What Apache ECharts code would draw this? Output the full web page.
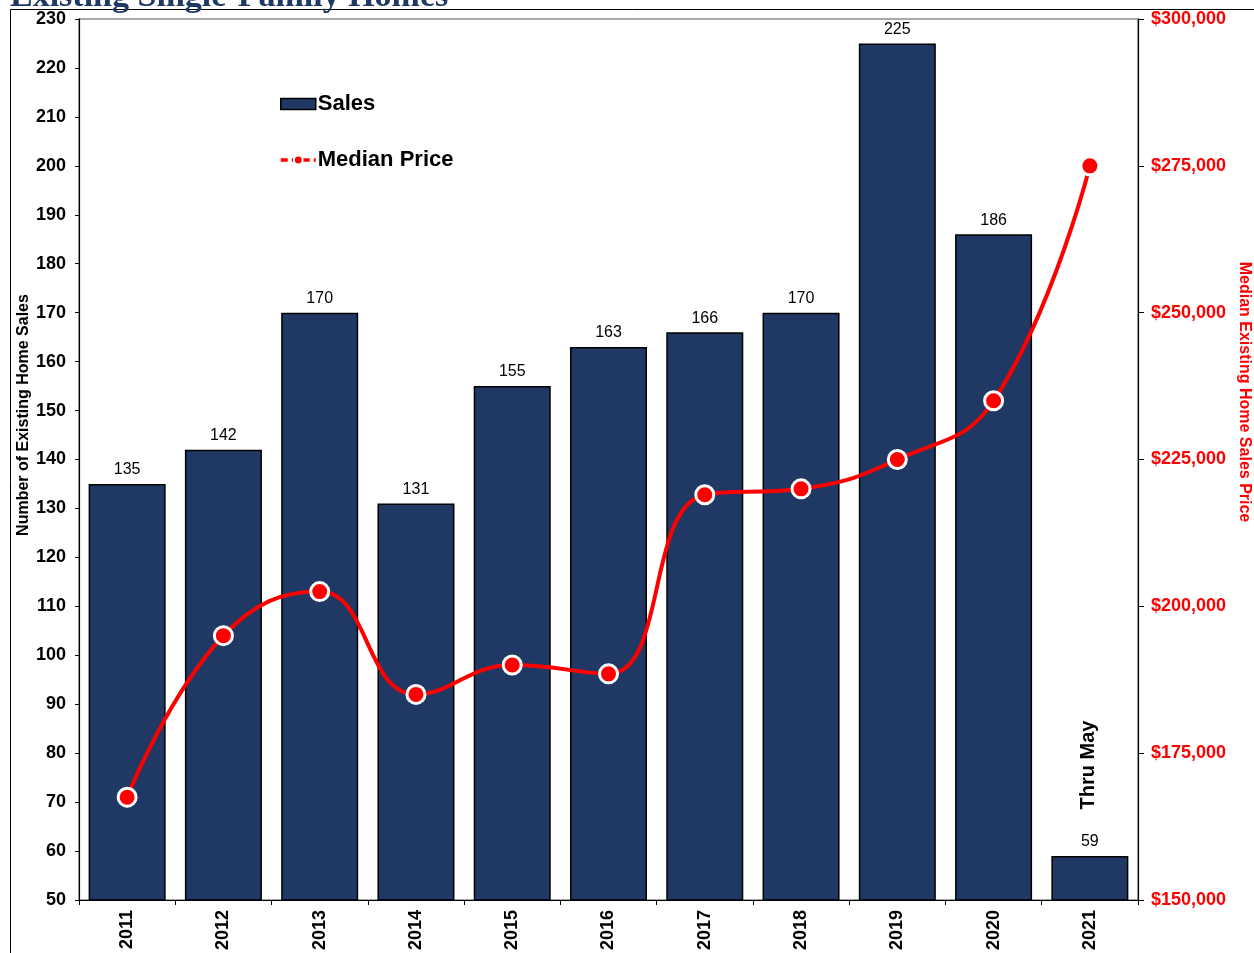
<!DOCTYPE html>
<html>
<head>
<meta charset="utf-8">
<script src="https://cdn.jsdelivr.net/npm/echarts@6/dist/echarts.min.js"></script>
<style>
  html, body { margin: 0; padding: 0; background: #fff; }
  #chart { width: 1254px; height: 953px; }
</style>
</head>
<body>
<div id="chart"></div>
<script>
// Annual existing single-family home sales and median price
const years = ['2011', '2012', '2013', '2014', '2015', '2016', '2017', '2018', '2019', '2020', '2021'];
const sales = [135, 142, 170, 131, 155, 163, 166, 170, 225, 186, 59];
const medianPrice = [167500, 195000, 202500, 185000, 190000, 188500, 219000, 220000, 225000, 235000, 275000];
const salesTicks = { min: 50, max: 230, step: 10 };
const priceTicks = { min: 150000, max: 300000, step: 25000 };

const chart = echarts.init(document.getElementById('chart'), null, { renderer: 'canvas' });

const fmtPrice = v => '$' + v.toLocaleString('en-US');
const sans = '"Liberation Sans", Arial, sans-serif';

chart.setOption({
  animation: false,
  backgroundColor: '#fff',
  grid: { left: 79, right: 116, top: 19, bottom: 51, show: true, borderColor: '#8c8c8c', borderWidth: 1.5, backgroundColor: 'transparent' },
  legend: {
    orient: 'vertical',
    left: 274,
    top: 88,
    itemGap: 34,
    itemWidth: 35,
    itemHeight: 11,
    textStyle: { fontFamily: sans, fontSize: 22, fontWeight: 'bold', color: '#000', padding: [0, 0, 0, -3] },
    data: [
      { name: 'Sales', icon: 'rect', itemStyle: { color: '#203864', borderColor: '#000', borderWidth: 1.5 } },
      { name: 'Median Price', lineStyle: { type: [7, 4], width: 3.5 } }
    ]
  },
  xAxis: {
    type: 'category',
    data: years,
    axisLine: { lineStyle: { color: '#000', width: 1.2 } },
    axisTick: { show: true, alignWithLabel: false, length: 5, lineStyle: { color: '#000' } },
    axisLabel: { rotate: 90, margin: 10, fontFamily: sans, fontSize: 18, fontWeight: 'bold', color: '#000' }
  },
  yAxis: [
    {
      type: 'value',
      min: salesTicks.min, max: salesTicks.max, interval: salesTicks.step,
      axisLine: { show: true, lineStyle: { color: '#000', width: 1.2 } },
      axisTick: { show: true, inside: false, length: 4, lineStyle: { color: '#000' } },
      splitLine: { show: false },
      axisLabel: { margin: 13, fontFamily: sans, fontSize: 18, fontWeight: 'bold', color: '#000' }
    },
    {
      type: 'value',
      position: 'right',
      min: priceTicks.min, max: priceTicks.max, interval: priceTicks.step,
      axisLine: { show: true, lineStyle: { color: '#000', width: 1.2 } },
      axisTick: { show: true, inside: false, length: 6, lineStyle: { color: '#000' } },
      splitLine: { show: false },
      axisLabel: { margin: 13, fontFamily: sans, fontSize: 18, fontWeight: 'bold', color: '#ff0000', formatter: fmtPrice }
    }
  ],
  series: [
    {
      name: 'Sales',
      type: 'bar',
      yAxisIndex: 0,
      data: sales,
      barCategoryGap: '20%',
      itemStyle: { color: '#203864', borderColor: '#000', borderWidth: 1.5 },
      label: { show: true, position: 'top', distance: 6, fontFamily: sans, fontSize: 16, color: '#000' },
      z: 2
    },
    {
      name: 'Median Price',
      type: 'line',
      yAxisIndex: 1,
      data: medianPrice,
      smooth: 0.45,
      symbol: 'circle',
      symbolSize: 18,
      lineStyle: { color: '#ff0000', width: 4 },
      itemStyle: { color: '#ff0000', borderColor: '#fff', borderWidth: 3 },
      z: 5
    }
  ],
  graphic: [
    {
      type: 'rect',
      shape: { x: 10.5, y: 9.5, width: 1300, height: 1000 },
      style: { fill: 'none', stroke: '#000', lineWidth: 1 },
      silent: true, z: -10
    },
    {
      type: 'text',
      x: 10, y: 14,
      style: {
        text: 'Existing Single-Family Homes',
        font: 'bold 34px "Liberation Serif", "DejaVu Serif", serif',
        fill: '#1f3864',
        textVerticalAlign: 'bottom'
      }
    },
    {
      type: 'text',
      x: 24, y: 415,
      rotation: Math.PI / 2,
      style: {
        text: 'Number of Existing Home Sales',
        font: 'bold 16px "Liberation Sans", Arial, sans-serif',
        fill: '#000',
        textAlign: 'center',
        textVerticalAlign: 'middle'
      }
    },
    {
      type: 'text',
      x: 1244, y: 392,
      rotation: -Math.PI / 2,
      style: {
        text: 'Median Existing Home Sales Price',
        font: 'bold 16px "Liberation Sans", Arial, sans-serif',
        fill: '#ff0000',
        textAlign: 'center',
        textVerticalAlign: 'middle'
      }
    },
    {
      type: 'text',
      x: 1088, y: 765,
      rotation: Math.PI / 2,
      style: {
        text: 'Thru May',
        font: 'bold 20px "Liberation Sans", Arial, sans-serif',
        fill: '#000',
        textAlign: 'center',
        textVerticalAlign: 'middle'
      }
    }
  ]
});
</script>
</body>
</html>
